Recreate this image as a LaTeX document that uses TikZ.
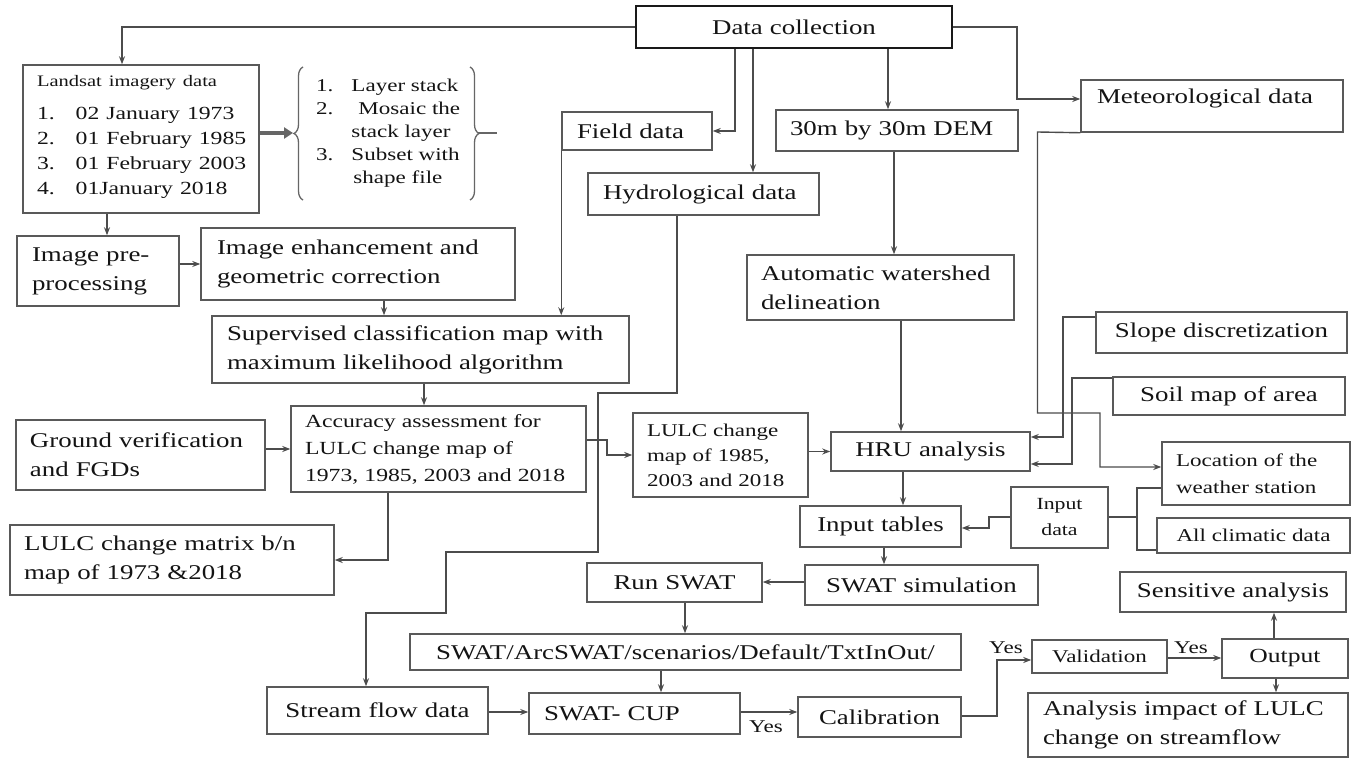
\documentclass[tikz,border=0pt]{standalone}
\usepackage{fontspec}
\setmainfont{Liberation Serif}[FakeStretch=1.28]
\usetikzlibrary{arrows.meta,decorations.pathreplacing,calc}
\newcommand\fsz[2]{\fontsize{#1}{#2}\selectfont}
\newcommand\mkbox[8]{%
  \pgfmathsetmacro\bw{#4-#2}\pgfmathsetmacro\bh{#5-#3}%
  \pgfmathsetmacro\tw{#4-#2-2*#6}%
  \pgfmathsetmacro\cx{(#2+#4)/2}\pgfmathsetmacro\cy{(#3+#5)/2}%
  \node[box,inner xsep=#6pt,minimum width=\bw pt,minimum height=\bh pt,text width=\tw pt,#7] (#1) at (\cx,\cy) {#8};}
\tikzset{
  box/.style={draw=black!65,line width=1.5pt,fill=white,inner ysep=2pt,text=black!92,align=left,font=\fsz{21}{29}},
  ctr/.style={align=center},
  conn/.style={draw=black!70,line width=1.4pt,-{Stealth[length=8pt,width=6pt]}},
  plainline/.style={draw=black!70,line width=1.4pt},
  lbl/.style={font=\fsz{18}{20},text=black!92,inner sep=0pt},
  bracestyle/.style={draw=black!60,line width=1.3pt,decorate,decoration={brace,amplitude=9pt}},
}
\begin{document}
\begin{tikzpicture}[x=1pt,y=-1pt]
\useasboundingbox[fill=white] (0,0) rectangle (1353,759);
% boxes
\mkbox{dc}{636}{6}{952}{48}{10}{ctr,line width=2.6pt,draw=black!90}{Data collection}
\mkbox{land}{23}{65}{259}{213}{14}{}{\noindent{\fsz{16}{20}Landsat imagery data\par}\vspace{11pt}\noindent{\fsz{18.5}{25}\begin{tabular}{@{}l@{\hspace{21pt}}l@{}}1.&02 January 1973\\2.&01 February 1985\\3.&01 February 2003\\4.&01January 2018\end{tabular}\par}}
\node[inner sep=0pt,text=black!92,font=\fsz{18}{23},align=left,anchor=west] (steps) at (316,133) {\begin{tabular}{@{}l@{\hspace{18pt}}l@{}}1.&Layer stack\\2.&\hspace{7pt}Mosaic the\\&stack layer\\3.&Subset with\\&\hspace{2pt}shape file\end{tabular}};
\mkbox{field}{562}{112}{712}{150}{15}{}{Field data}
\mkbox{dem}{776}{110}{1018}{151}{14}{}{30m by 30m DEM}
\mkbox{met}{1081}{80}{1343}{132}{16}{text depth=20pt}{Meteorological data}
\mkbox{hydro}{588}{173}{819}{215}{15}{}{Hydrological data}
\mkbox{pre}{17}{236}{179}{306}{15}{}{Image pre-\\processing}
\mkbox{enh}{201}{228}{515}{300}{16}{}{Image enhancement and\\geometric correction}
\mkbox{ws}{747}{255}{1014}{320}{14}{}{Automatic watershed\\delineation}
\mkbox{sup}{212}{316}{629}{383}{15}{}{Supervised classification map with\\maximum likelihood algorithm}
\mkbox{slope}{1096}{312}{1347}{353}{14}{ctr}{Slope discretization}
\mkbox{soil}{1113}{377}{1345}{415}{14}{ctr}{Soil map of area}
\mkbox{ground}{16}{420}{265}{490}{14}{}{Ground verification\\and FGDs}
\mkbox{acc}{291}{406}{586}{492}{14}{font=\fsz{18.5}{27}}{Accuracy assessment for\\LULC change map of\\1973, 1985, 2003 and 2018}
\mkbox{matrix}{10}{525}{334}{595}{14}{}{LULC change matrix b/n\\map of 1973 \&2018}
\mkbox{lmap}{633}{413}{808}{497}{14}{font=\fsz{18}{25}}{LULC change\\map of 1985,\\2003 and 2018}
\mkbox{hru}{831}{432}{1030}{471}{8}{ctr}{HRU analysis}
\mkbox{loc}{1162}{442}{1350}{505}{14}{font=\fsz{18}{27}}{Location of the\\weather station}
\mkbox{indata}{1011}{487}{1108}{548}{5}{ctr,font=\fsz{17}{26}}{Input\\data}
\mkbox{climatic}{1157}{518}{1350}{553}{8}{ctr,font=\fsz{18}{22}}{All climatic data}
\mkbox{intab}{800}{506}{961}{547}{6}{ctr}{Input tables}
\mkbox{swsim}{805}{565}{1038}{605}{8}{ctr}{SWAT simulation}
\mkbox{runswat}{587}{563}{762}{602}{8}{ctr}{Run SWAT}
\mkbox{arcswat}{410}{634}{961}{670}{6}{ctr}{SWAT/ArcSWAT/scenarios/Default/TxtInOut/}
\mkbox{swcup}{529}{693}{740}{734}{15}{}{SWAT- CUP}
\mkbox{stream}{267}{687}{488}{734}{8}{ctr}{Stream flow data}
\mkbox{calib}{798}{697}{961}{737}{8}{ctr}{Calibration}
\mkbox{valid}{1032}{640}{1167}{673}{5}{ctr,font=\fsz{18}{22}}{Validation}
\mkbox{output}{1222}{639}{1348}{678}{6}{ctr,font=\fsz{20}{24}}{Output}
\mkbox{sens}{1120}{572}{1346}{612}{6}{ctr}{Sensitive analysis}
\mkbox{anal}{1028}{693}{1348}{757}{15}{}{Analysis impact of LULC\\change on streamflow}
% braces
\draw[bracestyle] (303,200) -- (303,67);
\draw[bracestyle] (470,67) -- (470,200);
\coordinate (rb) at (478,133);
\coordinate (rt) at (497,133);
\coordinate (lb) at (293,133);
\draw[plainline,draw=black!60,line width=1.3pt] (rb) -- (rt);
\draw[draw=black!60,line width=4pt,-{Triangle[length=9pt,width=11pt]}] (land.east |- 0,133) -- (lb);
% connectors
\draw[conn] (dc.west) -| (land.north -| 122,0);
\draw[conn] (land.south -| 107,0) -- (pre.north -| 107,0);
\draw[conn] (dc.south -| 735,0) |- (field.east);
\draw[conn] (dc.south -| 753,0) -- (hydro.north -| 753,0);
\draw[conn] (dc.south -| 888,0) -- (dem.north -| 888,0);
\draw[conn] (dc.east) -| (1017,99) -- (met.west |- 0,99);
\draw[conn] (pre.east |- enh.west) -- (enh.west);
\draw[conn] (enh.south -| 384,0) -- (sup.north -| 384,0);
\draw[conn] (field.south west) -- (sup.north -| field.south west);
\draw[conn] (sup.south -| 424,0) -- (acc.north -| 424,0);
\draw[conn] (dem.south -| 894,0) -- (ws.north -| 894,0);
\draw[conn] (ws.south -| 901,0) -- (hru.north -| 901,0);
\draw[conn] (ground.east |- 0,449) -- (acc.west |- 0,449);
\draw[conn] (acc.south -| 388,0) |- (matrix.east);
\draw[conn] (acc.east |- 0,440) -- (607,440) -- (607,455) -- (lmap.west);
\draw[conn] (lmap.east |- hru.west) -- (hru.west);
\draw[conn] (hydro.south -| 677,0) -- (677,393) -- (598,393) -- (598,552) -- (446,552) -- (446,613) -- (366,613) -- (stream.north -| 366,0);
\draw[conn] (met.south west) -- (1037.5,132) -- (1037.5,413) -- (1100,413) -- (1100,467) -- (loc.west |- 0,467);
\draw[conn] (slope.west |- 0,317) -- (1063,317) -- (1063,437) -- (hru.east |- 0,437);
\draw[conn] (soil.west |- 0,378) -- (1072,378) -- (1072,464) -- (hru.east |- 0,464);
\draw[plainline] (loc.west |- 0,488) -- (1137,488) -- (1137,550) -- (climatic.west |- 0,550);
\draw[plainline] (indata.east |- 0,517) -- (1137,517);
\draw[conn] (indata.west |- 0,517) -- (989,517) -- (989,528) -- (intab.east |- 0,528);
\draw[conn] (hru.south -| 903,0) -- (intab.north -| 903,0);
\draw[conn] (intab.south -| 884,0) -- (swsim.north -| 884,0);
\draw[conn] (swsim.west |- 0,582) -- (runswat.east |- 0,582);
\draw[conn] (runswat.south -| 685,0) -- (arcswat.north -| 685,0);
\draw[conn] (arcswat.south -| 661,0) -- (swcup.north -| 661,0);
\draw[conn] (stream.east |- 0,712) -- (swcup.west |- 0,712);
\draw[conn] (swcup.east |- 0,712) -- (calib.west |- 0,712);
\draw[conn] (calib.east |- 0,716) -- (997,716) -- (997,660) -- (valid.west |- 0,660);
\draw[conn] (valid.east |- 0,658) -- (output.west |- 0,658);
\draw[conn] (output.north -| 1274,0) -- (sens.south -| 1274,0);
\draw[conn] (output.south -| 1276,0) -- (anal.north -| 1276,0);
% labels
\node[lbl] (yes1) at (766,727) {Yes};
\node[lbl] (yes2) at (1006,648) {Yes};
\node[lbl] (yes3) at (1191,648) {Yes};
\end{tikzpicture}
\end{document}
